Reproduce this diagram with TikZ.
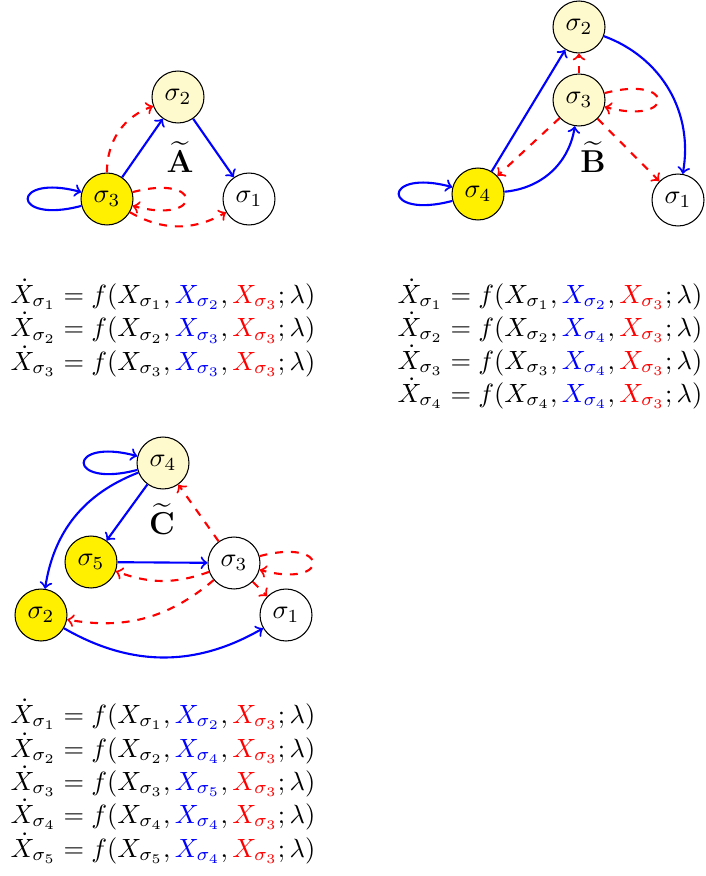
\documentclass[tikz,border=0pt]{standalone}
\usepackage{amsmath}
\definecolor{lightyel}{RGB}{255,250,205}
\definecolor{brightyel}{RGB}{255,240,0}
\begin{document}
\begin{tikzpicture}[x=0.379pt,y=-0.379pt,
  st/.style={circle,draw,thin,minimum size=19.7pt,inner sep=0pt},
  wst/.style={st,fill=white},
  lst/.style={st,fill=lightyel},
  yst/.style={st,fill=brightyel},
  bl/.style={->,blue,thick},
  rd/.style={->,red,thick,dashed},
  eq/.style={anchor=base west,inner sep=0pt},
  ttl/.style={inner sep=0pt,font=\large}]
\useasboundingbox (0,0) rectangle (705,876);
% ---------- A ----------
\node[lst] (a2) at (178,97) {$\sigma_2$};
\node[yst] (a3) at (107,199) {$\sigma_3$};
\node[wst] (a1) at (249,199) {$\sigma_1$};
\node[ttl] (ta) at (180,157) {$\widetilde{\mathbf{A}}$};
\draw[bl] (a3) -- (a2);
\draw[bl] (a2) -- (a1);
\draw[bl] (a3.195) .. controls +(195:28pt) and +(165:28pt) .. (a3.165);
\draw[rd] (a3) to[bend left=35] (a2);
\draw[rd] (a3) to[bend right=30] (a1);
\draw[rd] (a3.15) .. controls +(15:28pt) and +(-15:28pt) .. (a3.-15);
% ---------- B ----------
\node[lst] (b2) at (579,27) {$\sigma_2$};
\node[lst] (b3) at (579,100) {$\sigma_3$};
\node[yst] (b4) at (478,194) {$\sigma_4$};
\node[wst] (b1) at (678,200) {$\sigma_1$};
\node[ttl] (tb) at (593,157) {$\widetilde{\mathbf{B}}$};
\draw[bl] (b4) -- (b2);
\draw[bl] (b4) to[bend right=38] (b3);
\draw[bl] (b2) to[bend left=40] (b1);
\draw[bl] (b4.195) .. controls +(195:28pt) and +(165:28pt) .. (b4.165);
\draw[rd] (b3) -- (b2);
\draw[rd] (b3) -- (b4);
\draw[rd] (b3) -- (b1);
\draw[rd] (b3.15) .. controls +(15:28pt) and +(-15:28pt) .. (b3.-15);
% ---------- C ----------
\node[lst] (c4) at (163,463) {$\sigma_4$};
\node[yst] (c5) at (91,562) {$\sigma_5$};
\node[wst] (c3) at (234,563) {$\sigma_3$};
\node[yst] (c2) at (41,615) {$\sigma_2$};
\node[wst] (c1) at (286,615) {$\sigma_1$};
\node[ttl] (tc) at (162,519) {$\widetilde{\mathbf{C}}$};
\draw[bl] (c4.195) .. controls +(195:28pt) and +(165:28pt) .. (c4.165);
\draw[bl] (c4) -- (c5);
\draw[bl] (c4) to[bend right=30] (c2);
\draw[bl] (c5) -- (c3);
\draw[bl] (c2) to[bend right=30] (c1);
\draw[rd] (c3) -- (c4);
\draw[rd] (c3) to[bend left=20] (c5);
\draw[rd] (c3) to[bend left=25] (c2);
\draw[rd] (c3) -- (c1);
\draw[rd] (c3.15) .. controls +(15:28pt) and +(-15:28pt) .. (c3.-15);
% ---------- equations ----------
\node[eq] (ea1) at (10,303) {$\dot X_{\sigma_1} = f(X_{\sigma_1},{\color{blue}X_{\sigma_2}},{\color{red}X_{\sigma_3}};\lambda)$};
\node[eq] (ea2) at (10,336.5) {$\dot X_{\sigma_2} = f(X_{\sigma_2},{\color{blue}X_{\sigma_3}},{\color{red}X_{\sigma_3}};\lambda)$};
\node[eq] (ea3) at (10,370) {$\dot X_{\sigma_3} = f(X_{\sigma_3},{\color{blue}X_{\sigma_3}},{\color{red}X_{\sigma_3}};\lambda)$};
\node[eq] (eb1) at (397,303) {$\dot X_{\sigma_1} = f(X_{\sigma_1},{\color{blue}X_{\sigma_2}},{\color{red}X_{\sigma_3}};\lambda)$};
\node[eq] (eb2) at (397,336) {$\dot X_{\sigma_2} = f(X_{\sigma_2},{\color{blue}X_{\sigma_4}},{\color{red}X_{\sigma_3}};\lambda)$};
\node[eq] (eb3) at (397,369) {$\dot X_{\sigma_3} = f(X_{\sigma_3},{\color{blue}X_{\sigma_4}},{\color{red}X_{\sigma_3}};\lambda)$};
\node[eq] (eb4) at (397,402) {$\dot X_{\sigma_4} = f(X_{\sigma_4},{\color{blue}X_{\sigma_4}},{\color{red}X_{\sigma_3}};\lambda)$};
\node[eq] (ec1) at (10,723) {$\dot X_{\sigma_1} = f(X_{\sigma_1},{\color{blue}X_{\sigma_2}},{\color{red}X_{\sigma_3}};\lambda)$};
\node[eq] (ec2) at (10,757) {$\dot X_{\sigma_2} = f(X_{\sigma_2},{\color{blue}X_{\sigma_4}},{\color{red}X_{\sigma_3}};\lambda)$};
\node[eq] (ec3) at (10,790) {$\dot X_{\sigma_3} = f(X_{\sigma_3},{\color{blue}X_{\sigma_5}},{\color{red}X_{\sigma_3}};\lambda)$};
\node[eq] (ec4) at (10,823) {$\dot X_{\sigma_4} = f(X_{\sigma_4},{\color{blue}X_{\sigma_4}},{\color{red}X_{\sigma_3}};\lambda)$};
\node[eq] (ec5) at (10,857) {$\dot X_{\sigma_5} = f(X_{\sigma_5},{\color{blue}X_{\sigma_4}},{\color{red}X_{\sigma_3}};\lambda)$};
\end{tikzpicture}
\end{document}
